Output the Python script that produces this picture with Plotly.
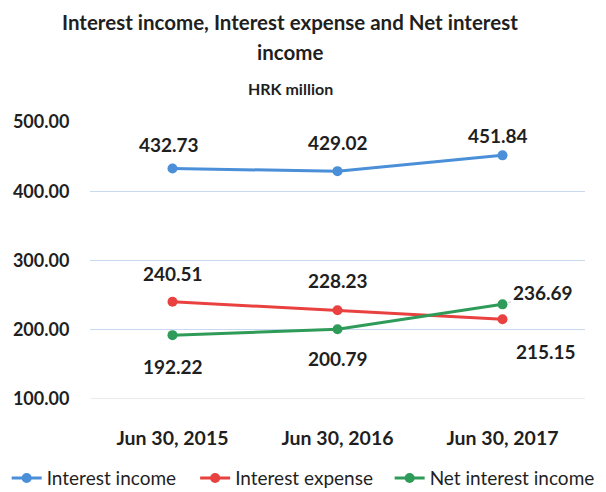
import plotly.graph_objects as go

categories = ["Jun 30, 2015", "Jun 30, 2016", "Jun 30, 2017"]
interest_income = [432.73, 429.02, 451.84]
interest_expense = [240.51, 228.23, 215.15]
net_interest_income = [192.22, 200.79, 236.69]
y_ticks = [100, 200, 300, 400, 500]

FONT = "Lato, Open Sans, sans-serif"
TXT = "#1f1f1f"

series = [
    ("Interest income", interest_income, "#4a8fd8", [(-4, 24), (0, 29), (-5, 20)], "legend", 0.011),
    ("Interest expense", interest_expense, "#e8413f", [(0, 28), (0, 30), (43, -32)], "legend2", 0.322),
    ("Net interest income", net_interest_income, "#2f9b58", [(0, -31), (0, -29), (40, 12)], "legend3", 0.643),
]

fig = go.Figure()
annotations = []
legends = {}
for name, vals, color, offs, leg, legx in series:
    fig.add_trace(go.Scatter(
        x=categories, y=vals, name=name, mode="lines+markers",
        line=dict(color=color, width=3),
        marker=dict(color=color, size=10),
        legend=leg,
    ))
    legends[leg] = dict(
        orientation="h", x=legx, xanchor="left", xref="container",
        y=0.028, yanchor="middle", yref="container",
        font=dict(family=FONT, size=19, color=TXT), bgcolor="rgba(0,0,0,0)",
    )
    for i, (c, v) in enumerate(zip(categories, vals)):
        dx, dy = offs[i]
        ann = dict(x=c, y=v, xref="x", yref="y", text=f"{v:.2f}",
                   font=dict(family=FONT, size=19, color=TXT, weight="bold"))
        if name == "Net interest income" and i == 2:
            ann.update(showarrow=True, arrowhead=0, arrowwidth=1, arrowcolor="#c8c8c8",
                       ax=dx, ay=-dy, standoff=6)
        else:
            ann.update(showarrow=False, xshift=dx, yshift=dy)
        annotations.append(ann)

PLOT_TOP, PLOT_H = 122, 277
def py(pix):
    return (PLOT_TOP + PLOT_H - pix) / PLOT_H

for txt, ypix, size in [("Interest income, Interest expense and Net interest", 22, 20.5),
                        ("income", 52, 20.5),
                        ("HRK million", 88, 16)]:
    annotations.append(dict(text=txt, xref="paper", yref="paper", x=(290 - 90) / 495, y=py(ypix),
                            xanchor="center", yanchor="middle", showarrow=False,
                            font=dict(family=FONT, size=size, color=TXT, weight="bold")))

fig.update_layout(
    width=606, height=492,
    margin=dict(l=90, r=21, t=122, b=93, autoexpand=False),
    paper_bgcolor="white", plot_bgcolor="white",
    font=dict(family=FONT, color=TXT),
    xaxis=dict(
        type="category", range=[-0.5, 2.5], showgrid=False, showline=False, zeroline=False,
        automargin=False,
        ticks="outside", ticklen=22, tickcolor="rgba(0,0,0,0)",
        tickfont=dict(family=FONT, size=19.5, color=TXT, weight="bold"),
    ),
    yaxis=dict(
        range=[100, 500], tickvals=y_ticks, ticktext=[f"{t:.2f}" for t in y_ticks],
        showgrid=True, gridcolor="#c9daf0", gridwidth=1, zeroline=False, showline=False,
        automargin=False,
        ticks="outside", ticklen=16, tickcolor="rgba(0,0,0,0)",
        tickfont=dict(family=FONT, size=18, color=TXT, weight="bold"),
    ),
    annotations=annotations,
    showlegend=True,
    **legends,
)
fig.add_shape(type="line", xref="paper", yref="y", x0=0, x1=1, y0=100, y1=100,
              line=dict(color="#d9d9d9", width=1))

fig.write_html("out.html", config={"displayModeBar": False},
               post_script="document.body.style.margin='0px';")
